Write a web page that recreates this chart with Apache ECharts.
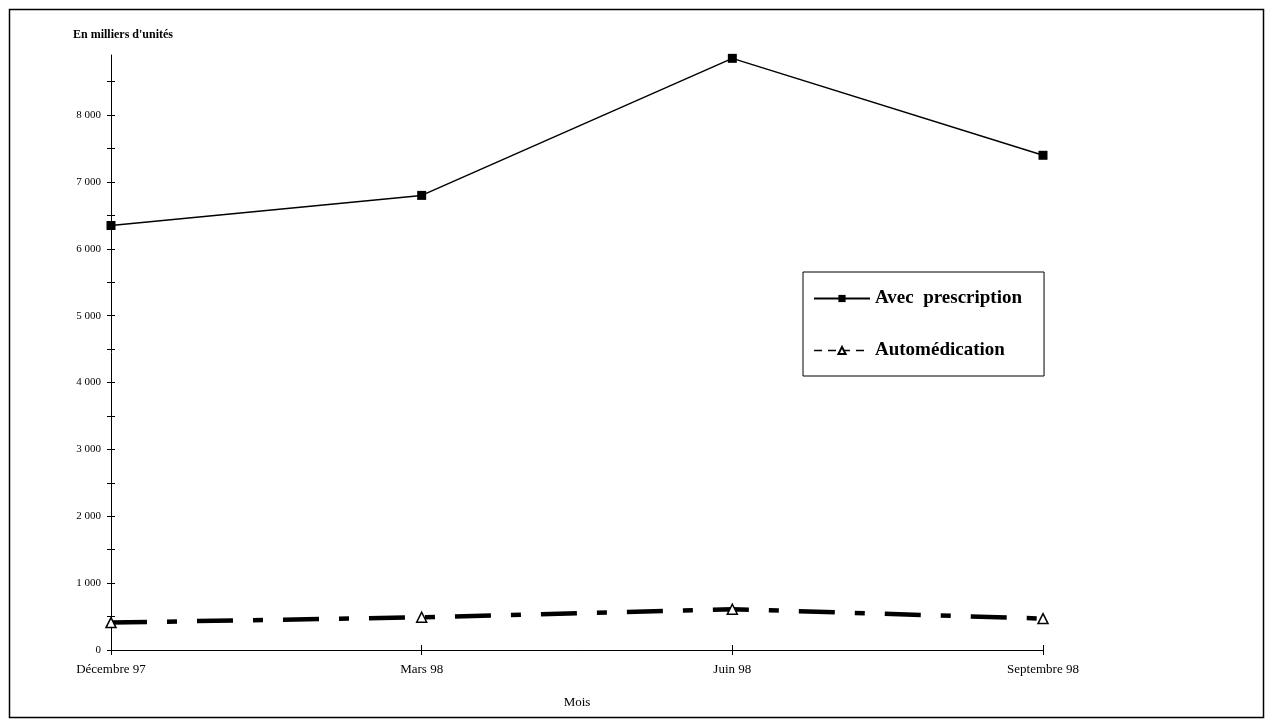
<!DOCTYPE html>
<html>
<head>
<meta charset="utf-8">
<script src="https://cdn.jsdelivr.net/npm/echarts@6/dist/echarts.min.js"></script>
<style>
html,body{margin:0;padding:0;background:#fff;}
#chart{width:1273px;height:727px;}
</style>
</head>
<body>
<div id="chart"></div>
<script>
const categories = ['Décembre 97', 'Mars 98', 'Juin 98', 'Septembre 98'];
const avecPrescription = [6350, 6800, 8850, 7400];
const automedication = [410, 490, 610, 470];
const yLabelValues = [0, 1000, 2000, 3000, 4000, 5000, 6000, 7000, 8000];
const yTickValues = [0, 500, 1000, 1500, 2000, 2500, 3000, 3500, 4000, 4500, 5000, 5500, 6000, 6500, 7000, 7500, 8000, 8500];
const seriesNames = ['Avec prescription', 'Automédication'];
const yTitle = "En milliers d'unités";
const xTitle = 'Mois';

const serif = '"Liberation Serif", "DejaVu Serif", serif';
const chart = echarts.init(document.getElementById('chart'));

function fmt(v){ return String(v).replace(/\B(?=(\d{3})+(?!\d))/g, ' '); }

const yMax = 8900;
const grid = { left: 111, right: 230, top: 55, bottom: 77 };

chart.setOption({
  animation: false,
  backgroundColor: '#fff',
  graphic: [
    { type: 'rect', shape: { x: 9.5, y: 9.5, width: 1254, height: 708 },
      style: { fill: 'none', stroke: '#000', lineWidth: 1.5 } },
    { type: 'text', left: 73, top: 29,
      style: { text: yTitle, font: 'bold 12px ' + serif, fill: '#000' } }
  ],
  grid: grid,
  legend: {
    orient: 'vertical',
    left: 803, top: 272,
    padding: [17, 22, 16, 10],
    borderColor: '#000', borderWidth: 1,
    itemWidth: 56, itemHeight: 9,
    itemGap: 33,
    formatter: function (n) { return n.replace(' ', '  '); },
    textStyle: { fontFamily: serif, fontSize: 19, fontWeight: 'bold', color: '#000' },
    data: [
      { name: seriesNames[0] },
      { name: seriesNames[1], lineStyle: { width: 1.5, type: [8, 6] } }
    ]
  },
  xAxis: [{
    type: 'category', data: categories, boundaryGap: false,
    axisLine: { lineStyle: { color: '#000', width: 1 } },
    axisTick: { length: 5, lineStyle: { color: '#000' } },
    axisLabel: { color: '#000', fontFamily: serif, fontSize: 13, margin: 13 },
    name: xTitle, nameLocation: 'middle', nameGap: 46,
    nameTextStyle: { color: '#000', fontFamily: serif, fontSize: 13 }
  }, {
    type: 'category', data: categories, boundaryGap: false, position: 'bottom',
    axisLine: { show: false },
    axisTick: { inside: true, length: 5, lineStyle: { color: '#000' } },
    axisLabel: { show: false }
  }],
  yAxis: [{
    type: 'value', min: 0, max: yMax,
    axisLine: { show: true, lineStyle: { color: '#000', width: 1 } },
    axisTick: { show: true, length: 4, customValues: yTickValues, lineStyle: { color: '#000' } },
    axisLabel: { color: '#000', fontFamily: serif, fontSize: 11, margin: 10,
      customValues: yLabelValues, formatter: fmt },
    splitLine: { show: false }
  }, {
    type: 'value', min: 0, max: yMax, position: 'left',
    axisLine: { show: false },
    axisTick: { show: true, inside: true, length: 4, customValues: yTickValues, lineStyle: { color: '#000' } },
    axisLabel: { show: false },
    splitLine: { show: false }
  }],
  series: [{
    name: seriesNames[0], type: 'line', data: avecPrescription,
    symbol: 'rect', symbolSize: 9,
    itemStyle: { color: '#000' },
    lineStyle: { color: '#000', width: 1.5 },
    z: 3
  }, {
    name: seriesNames[1], type: 'line', data: automedication,
    symbol: 'triangle', symbolSize: 10,
    itemStyle: { color: '#fff', borderColor: '#000', borderWidth: 1.5 },
    lineStyle: { color: '#000', width: 4.5, type: [36, 20, 10, 20] },
    z: 3
  }]
});
</script>
</body>
</html>
